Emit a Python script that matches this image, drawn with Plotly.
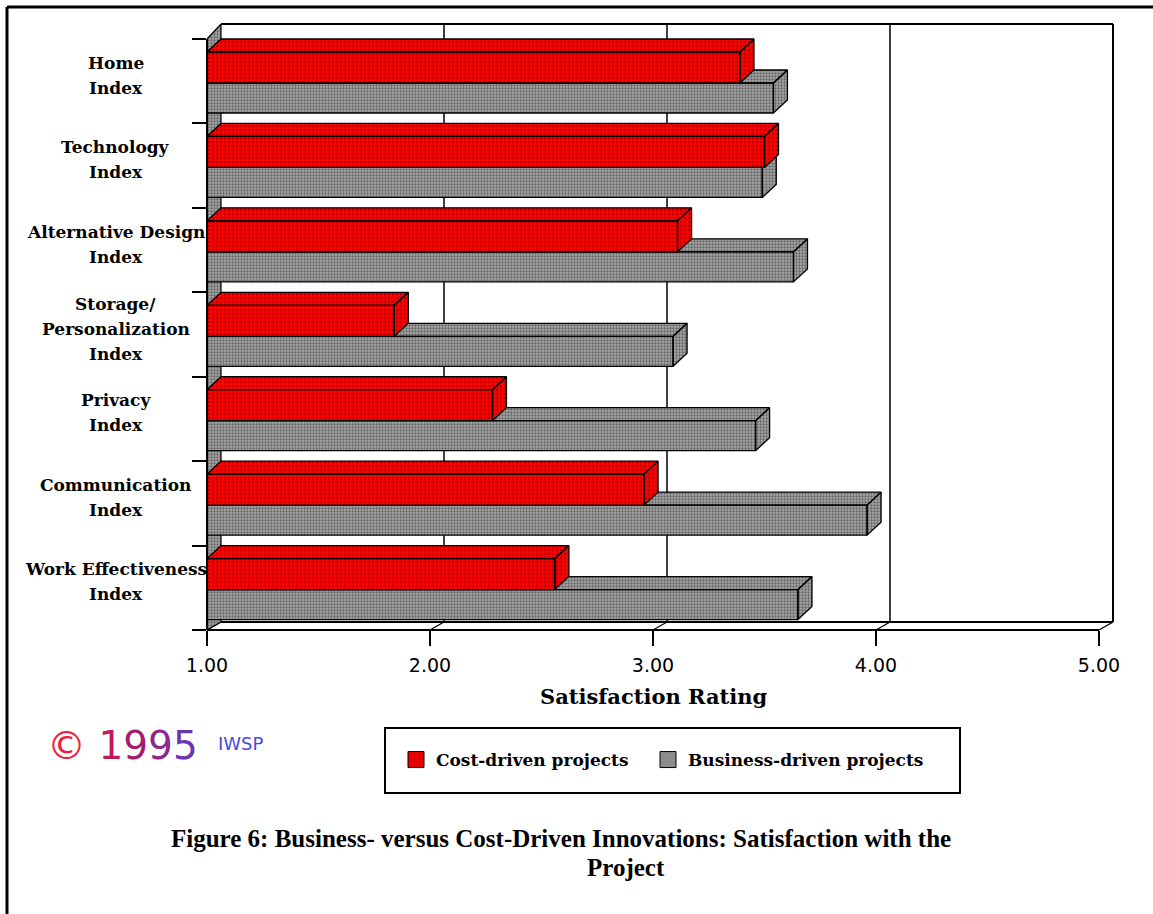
import plotly.graph_objects as go

# ---- data -------------------------------------------------------------
label_lines = [
    ["Home", "Index"],
    ["Technology", "Index"],
    ["Alternative Design", "Index"],
    ["Storage/", "Personalization", "Index"],
    ["Privacy", "Index"],
    ["Communication", "Index"],
    ["Work Effectiveness", "Index"],
]
cost_driven = [3.39, 3.50, 3.11, 1.84, 2.28, 2.96, 2.56]
business_driven = [3.54, 3.49, 3.63, 3.09, 3.46, 3.96, 3.65]
x_tick_values = [1, 2, 3, 4, 5]
x_tick_labels = ["1.00", "2.00", "3.00", "4.00", "5.00"]
series_names = ["Cost-driven projects", "Business-driven projects"]

# ---- page geometry (pixels) ---------------------------------------------
FIG_W, FIG_H = 1153, 914
LEFT, BOTTOM = 207, 630          # front corner of the axes box
UNIT_X = 223.0                   # px per rating point
N = len(label_lines)
BAND = 84.43                     # px per category band
DEPTH_X = 14                     # 3-D depth offset, px to the right
DEPTH_BAR_Y = 13                 # bar top-face depth, px up
DEPTH_FLOOR_Y = 8
DEPTH_TOP_Y = 15

X0, X1 = 1.0, 5.0
dx = DEPTH_X / UNIT_X
dy_bar = DEPTH_BAR_Y / BAND
dy_floor = DEPTH_FLOOR_Y / BAND
dy_top = DEPTH_TOP_Y / BAND
x_range = [X0, X1 + dx]
y_range = [0, N + dy_top]
plot_w = UNIT_X * (x_range[1] - x_range[0])
plot_h = BAND * (y_range[1] - y_range[0])
margin = dict(l=LEFT, r=FIG_W - LEFT - plot_w, t=BOTTOM - plot_h, b=FIG_H - BOTTOM)


def px_x(p):
    """horizontal pixel -> paper coordinate"""
    return (p - LEFT) / plot_w


def px_y(p):
    """vertical pixel -> paper coordinate"""
    return (BOTTOM - p) / plot_h


RED_PATTERN = dict(shape=".", bgcolor="#ff0000", fgcolor="#6a0000", size=4, solidity=0.3)
GRAY_PATTERN = dict(shape=".", bgcolor="#a8a8a8", fgcolor="#202020", size=3, solidity=0.45)


def box_faces(values, top_off, bot_off):
    """Front, top and right faces of each 3-D bar, as gap-separated polygons."""
    xs, ys = [], []
    for i, v in enumerate(values):
        band_top = N - i
        y1 = band_top - top_off / BAND
        y0 = band_top - bot_off / BAND
        polys = [
            [(X0, y1), (v, y1), (v + dx, y1 + dy_bar), (X0 + dx, y1 + dy_bar)],
            [(v, y0), (v + dx, y0 + dy_bar), (v + dx, y1 + dy_bar), (v, y1)],
            [(X0, y0), (v, y0), (v, y1), (X0, y1)],
        ]
        for poly in polys:
            for px, py in poly + [poly[0]]:
                xs.append(px)
                ys.append(py)
            xs.append(None)
            ys.append(None)
    return xs, ys


fig = go.Figure()

# left side wall of the 3-D box
fig.add_trace(go.Scatter(
    x=[X0, X0, X0 + dx, X0 + dx, X0],
    y=[0, N, N + dy_top, dy_floor, 0],
    mode="lines", fill="toself", fillcolor="#a8a8a8", fillpattern=GRAY_PATTERN,
    line=dict(color="black", width=1.2), showlegend=False, hoverinfo="skip",
))

# business-driven bars (lower bar of each pair) first, cost-driven on top
bx, by = box_faces(business_driven, 44, 74)
fig.add_trace(go.Scatter(
    x=bx, y=by, mode="lines", fill="toself", fillcolor="#a8a8a8",
    fillpattern=GRAY_PATTERN, line=dict(color="black", width=1.3),
    showlegend=False, hoverinfo="skip",
))
cx, cy = box_faces(cost_driven, 13, 44)
fig.add_trace(go.Scatter(
    x=cx, y=cy, mode="lines", fill="toself", fillcolor="#ff0000",
    fillpattern=RED_PATTERN, line=dict(color="black", width=1.3),
    showlegend=False, hoverinfo="skip",
))

# legend entries, one legend box each so they can be placed freely
fig.add_trace(go.Scatter(
    x=[None], y=[None], mode="markers", name=series_names[0], legend="legend",
    marker=dict(symbol="square", size=21, color="#e80000", line=dict(color="black", width=1)),
))
fig.add_trace(go.Scatter(
    x=[None], y=[None], mode="markers", name=series_names[1], legend="legend2",
    marker=dict(symbol="square", size=21, color="#8c8c8c", line=dict(color="black", width=1)),
))

shapes = []
# back wall: bottom edge, gridlines
shapes.append(dict(type="line", xref="x", yref="y", x0=X0 + dx, x1=X1 + dx, y0=dy_floor, y1=dy_floor,
                   line=dict(color="black", width=2), layer="below"))
for t in x_tick_values[1:-1]:
    shapes.append(dict(type="line", xref="x", yref="y", x0=t + dx, x1=t + dx, y0=dy_floor, y1=N + dy_top,
                       line=dict(color="black", width=1.5), layer="below"))
# back wall top and right edges (paper refs keep them unclipped)
shapes.append(dict(type="line", xref="x", yref="paper", x0=X0 + dx, x1=X1 + dx, y0=1, y1=1,
                   line=dict(color="black", width=2), layer="below"))
shapes.append(dict(type="line", xref="paper", yref="y", x0=1, x1=1, y0=dy_floor, y1=N + dy_top,
                   line=dict(color="black", width=2), layer="below"))
# floor: slanted tick marks and front edge
for t in x_tick_values:
    shapes.append(dict(type="line", xref="x", yref="y", x0=t, x1=t + dx, y0=0, y1=dy_floor,
                       line=dict(color="black", width=1.2), layer="below"))
shapes.append(dict(type="line", xref="x", yref="paper", x0=X0, x1=X1, y0=0, y1=0,
                   line=dict(color="black", width=2), layer="above"))
# front vertical axis
shapes.append(dict(type="line", xref="paper", yref="y", x0=0, x1=0, y0=0, y1=N,
                   line=dict(color="black", width=2), layer="above"))
# legend frame
shapes.append(dict(type="rect", xref="paper", yref="paper",
                   x0=px_x(385), x1=px_x(960), y0=px_y(793), y1=px_y(728),
                   line=dict(color="black", width=2), fillcolor="rgba(0,0,0,0)"))
# page frame (top and left rules)
shapes.append(dict(type="line", xref="paper", yref="paper", x0=px_x(7), x1=px_x(FIG_W), y0=px_y(7), y1=px_y(7),
                   line=dict(color="black", width=3)))
shapes.append(dict(type="line", xref="paper", yref="paper", x0=px_x(7), x1=px_x(7), y0=px_y(7), y1=px_y(FIG_H),
                   line=dict(color="black", width=3)))

annotations = []
LABEL_FONT = dict(family="DejaVu Serif", size=17, color="black", weight="bold")
for i, lines in enumerate(label_lines):
    centre = N - i - 0.5
    n = len(lines)
    for j, line in enumerate(lines):
        annotations.append(dict(
            text=line, xref="paper", yref="y", x=px_x(116), y=centre,
            xanchor="center", yanchor="middle", showarrow=False, font=LABEL_FONT,
            yshift=6 - (j - (n - 1) / 2) * 25,
        ))

annotations.append(dict(
    text="<b>Satisfaction Rating</b>", xref="x", yref="paper", x=3, y=px_y(697),
    xanchor="center", yanchor="middle", showarrow=False,
    font=dict(family="DejaVu Serif", size=21, color="black"),
))

annotations.append(dict(
    text=("<span style='color:#f01c3c'>©</span> "
          "<span style='color:#c4185c'>1</span><span style='color:#a81c70'>9</span>"
          "<span style='color:#8c2890'>9</span><span style='color:#6c34b0'>5</span>"),
    xref="paper", yref="paper", x=px_x(45), y=px_y(746), xanchor="left", yanchor="middle",
    showarrow=False, font=dict(family="DejaVu Sans", size=39),
))
annotations.append(dict(
    text="IWSP", xref="paper", yref="paper", x=px_x(216), y=px_y(744), xanchor="left",
    yanchor="middle", showarrow=False, font=dict(family="DejaVu Sans", size=18, color="#4a48e0"),
))

CAPTION_FONT = dict(family="Liberation Serif", size=25, color="black")
annotations.append(dict(
    text="<b>Figure 6: Business- versus Cost-Driven Innovations: Satisfaction with the</b>",
    xref="paper", yref="paper", x=px_x(561), y=px_y(839), xanchor="center", yanchor="middle",
    showarrow=False, font=CAPTION_FONT,
))
annotations.append(dict(
    text="<b>Project</b>", xref="paper", yref="paper", x=px_x(626), y=px_y(868),
    xanchor="center", yanchor="middle", showarrow=False, font=CAPTION_FONT,
))

LEGEND_STYLE = dict(
    orientation="h", y=px_y(760), xanchor="left", yanchor="middle",
    bgcolor="rgba(0,0,0,0)", borderwidth=0,
    font=dict(family="DejaVu Serif", size=17, color="black", weight="bold"),
    itemclick=False, itemdoubleclick=False,
)

fig.update_layout(
    width=FIG_W, height=FIG_H, autosize=False, margin=margin,
    paper_bgcolor="white", plot_bgcolor="white",
    shapes=shapes, annotations=annotations,
    xaxis=dict(
        range=x_range, tickvals=x_tick_values, ticktext=x_tick_labels,
        ticks="outside", ticklen=15, tickwidth=2, tickcolor="black",
        tickfont=dict(family="DejaVu Sans", size=19, color="black"),
        showgrid=False, zeroline=False, showline=False, fixedrange=True,
        ticklabelstandoff=3,
    ),
    yaxis=dict(
        range=y_range, tickvals=list(range(N + 1)), ticktext=[""] * (N + 1),
        ticks="outside", ticklen=14, tickwidth=2, tickcolor="black",
        showgrid=False, zeroline=False, showline=False, fixedrange=True,
    ),
    showlegend=True,
    legend=dict(x=px_x(396), **LEGEND_STYLE),
    legend2=dict(x=px_x(648), **LEGEND_STYLE),
)

fig.write_html("out.html")
